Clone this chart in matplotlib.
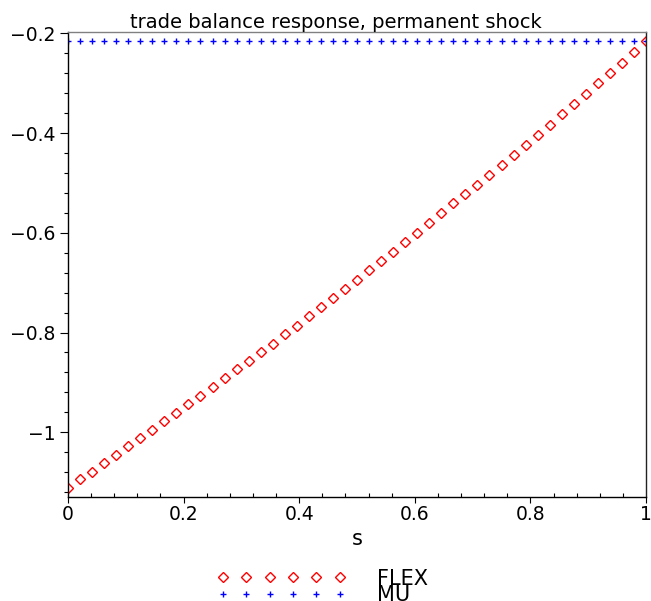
import matplotlib
matplotlib.use("Agg")
import matplotlib.pyplot as plt
from matplotlib.ticker import MultipleLocator, FuncFormatter

plt.rcParams['font.family'] = ['DejaVu Sans']

# 49 sample points on s in [0, 1]
s = [i / 48 for i in range(49)]

flex = [-1.111, -1.094, -1.079, -1.062, -1.045, -1.027, -1.011, -0.995,
        -0.977, -0.961, -0.943, -0.927, -0.909, -0.891, -0.874, -0.857,
        -0.839, -0.823, -0.803, -0.787, -0.767, -0.749, -0.731, -0.713,
        -0.694, -0.675, -0.657, -0.638, -0.619, -0.600, -0.581, -0.561,
        -0.541, -0.522, -0.503, -0.483, -0.464, -0.444, -0.424, -0.403,
        -0.383, -0.362, -0.341, -0.322, -0.299, -0.279, -0.259, -0.238,
        -0.216]
mu = [-0.215] * 49

title = "trade balance response, permanent shock"
xlabel = "s"
labels = ["FLEX", "MU"]

fig = plt.figure(figsize=(6.51, 6.01), dpi=100)
ax = fig.add_axes([68 / 651, 104 / 601, 578 / 651, 465 / 601])

ax.plot(s, flex, linestyle='none', marker='D', ms=5.2, mfc='none',
        mec='red', mew=1.0, label=labels[0])
ax.plot(s, mu, linestyle='none', marker='+', ms=4.5, color='blue',
        mew=1.0, label=labels[1])

ax.set_xlim(0, 1)
ax.set_ylim(-1.13, -0.197)

fmt = FuncFormatter(lambda v, p: ("%g" % round(v, 3)).replace('-', '\u2212'))
ax.xaxis.set_major_locator(MultipleLocator(0.2))
ax.xaxis.set_minor_locator(MultipleLocator(0.04))
ax.yaxis.set_major_locator(MultipleLocator(0.2))
ax.yaxis.set_minor_locator(MultipleLocator(0.04))
ax.xaxis.set_major_formatter(fmt)
ax.yaxis.set_major_formatter(fmt)

ax.tick_params(axis='x', which='major', direction='out', length=4, width=0.8,
               pad=2, labelsize=13.5)
ax.tick_params(axis='x', which='minor', direction='in', length=3, width=0.8)
ax.tick_params(axis='y', which='major', direction='out', length=6, width=0.8,
               pad=3, labelsize=13.5)
ax.tick_params(axis='y', which='minor', direction='out', length=3, width=0.8)

for side in ['left', 'bottom']:
    ax.spines[side].set_linewidth(1.0)
    ax.spines[side].set_color('black')
ax.spines['top'].set_color('#808080')
ax.spines['top'].set_linewidth(1.0)
ax.spines['right'].set_color('#222222')
ax.spines['right'].set_linewidth(1.0)

fig.text(336 / 651, 1 - 28 / 601, title, ha='center', va='baseline',
         fontsize=14)
fig.text(357 / 651, 1 - 545 / 601, xlabel, ha='center', va='baseline',
         fontsize=15)

fig.legend(loc='center left', bbox_to_anchor=(0.333, 1 - 587 / 601),
           frameon=False, numpoints=6, handlelength=6.2, handletextpad=1.5,
           labelspacing=-0.16, borderpad=0, borderaxespad=0, fontsize=15)

fig.savefig("out.png", dpi=100)
